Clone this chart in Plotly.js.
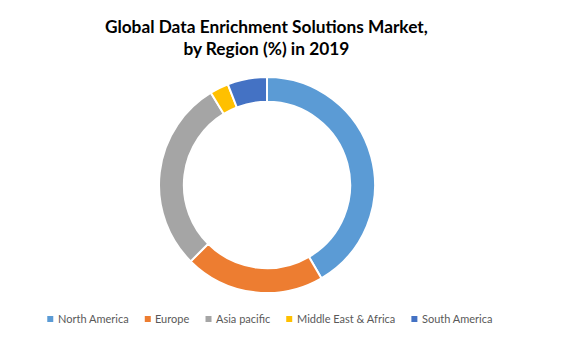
<!DOCTYPE html>
<html>
<head>
<meta charset="utf-8">
<script src="https://cdn.plot.ly/plotly-3.0.1.min.js"></script>
<style>html,body{margin:0;padding:0;background:#fff;}#chart{width:579px;height:343px;}</style>
</head>
<body>
<div id="chart"></div>
<script>
const regions = ["North America", "Europe", "Asia pacific", "Middle East & Africa", "South America"];
const shares = [41.6, 20.9, 28.8, 2.8, 5.9];
const colors = ["#5B9BD5", "#ED7D31", "#A5A5A5", "#FFC000", "#4472C4"];
const titleLines = ["Global Data Enrichment Solutions Market,", "by Region (%) in 2019"];

const W = 579, H = 343;

const trace = {
  type: "pie",
  labels: regions,
  values: shares,
  sort: false,
  direction: "clockwise",
  rotation: 0,
  hole: 0.77,
  textinfo: "none",
  hoverinfo: "label+percent",
  marker: {colors: colors, line: {color: "#FFFFFF", width: 2}},
  domain: {x: [0.2746, 0.6477], y: [0.1458, 0.7755]}
};

// Custom legend (small square keys close to the text, like the reference)
const legFont = "11px Lato";
const cv = document.createElement("canvas").getContext("2d");
cv.font = legFont;
const keySize = 6, keyGap = 2.5, itemGap = 18, legY = 319, legCenter = 269;
const widths = regions.map(r => cv.measureText(r).width);
const total = widths.reduce((a, b) => a + b, 0) + regions.length * (keySize + keyGap) + (regions.length - 1) * itemGap;
let cx = legCenter - total / 2;
const shapes = [], annotations = [];
regions.forEach((r, i) => {
  shapes.push({
    type: "rect", xref: "paper", yref: "paper", line: {width: 0},
    fillcolor: colors[i],
    x0: cx / W, x1: (cx + keySize) / W,
    y0: 1 - (legY + keySize / 2) / H, y1: 1 - (legY - keySize / 2) / H
  });
  annotations.push({
    xref: "paper", yref: "paper", showarrow: false,
    x: (cx + keySize + keyGap) / W, xanchor: "left",
    y: 1 - (legY - 0.5) / H, yanchor: "middle",
    text: r, font: {family: "Lato, sans-serif", size: 11, color: "#595959"}
  });
  cx += keySize + keyGap + widths[i] + itemGap;
});

const layout = {
  width: W, height: H,
  margin: {l: 0, r: 0, t: 0, b: 0},
  paper_bgcolor: "#FFFFFF",
  font: {family: "Lato, 'Open Sans', sans-serif", color: "#595959"},
  title: {
    text: "<b>" + titleLines.join("<br>") + "</b>",
    font: {family: "Lato, sans-serif", size: 17.3, color: "#000000"},
    x: 0.46, xanchor: "center", y: 0.905, yanchor: "top"
  },
  showlegend: false,
  shapes: shapes,
  annotations: annotations
};

Plotly.newPlot("chart", [trace], layout, {displayModeBar: false, staticPlot: true});
</script>
</body>
</html>
